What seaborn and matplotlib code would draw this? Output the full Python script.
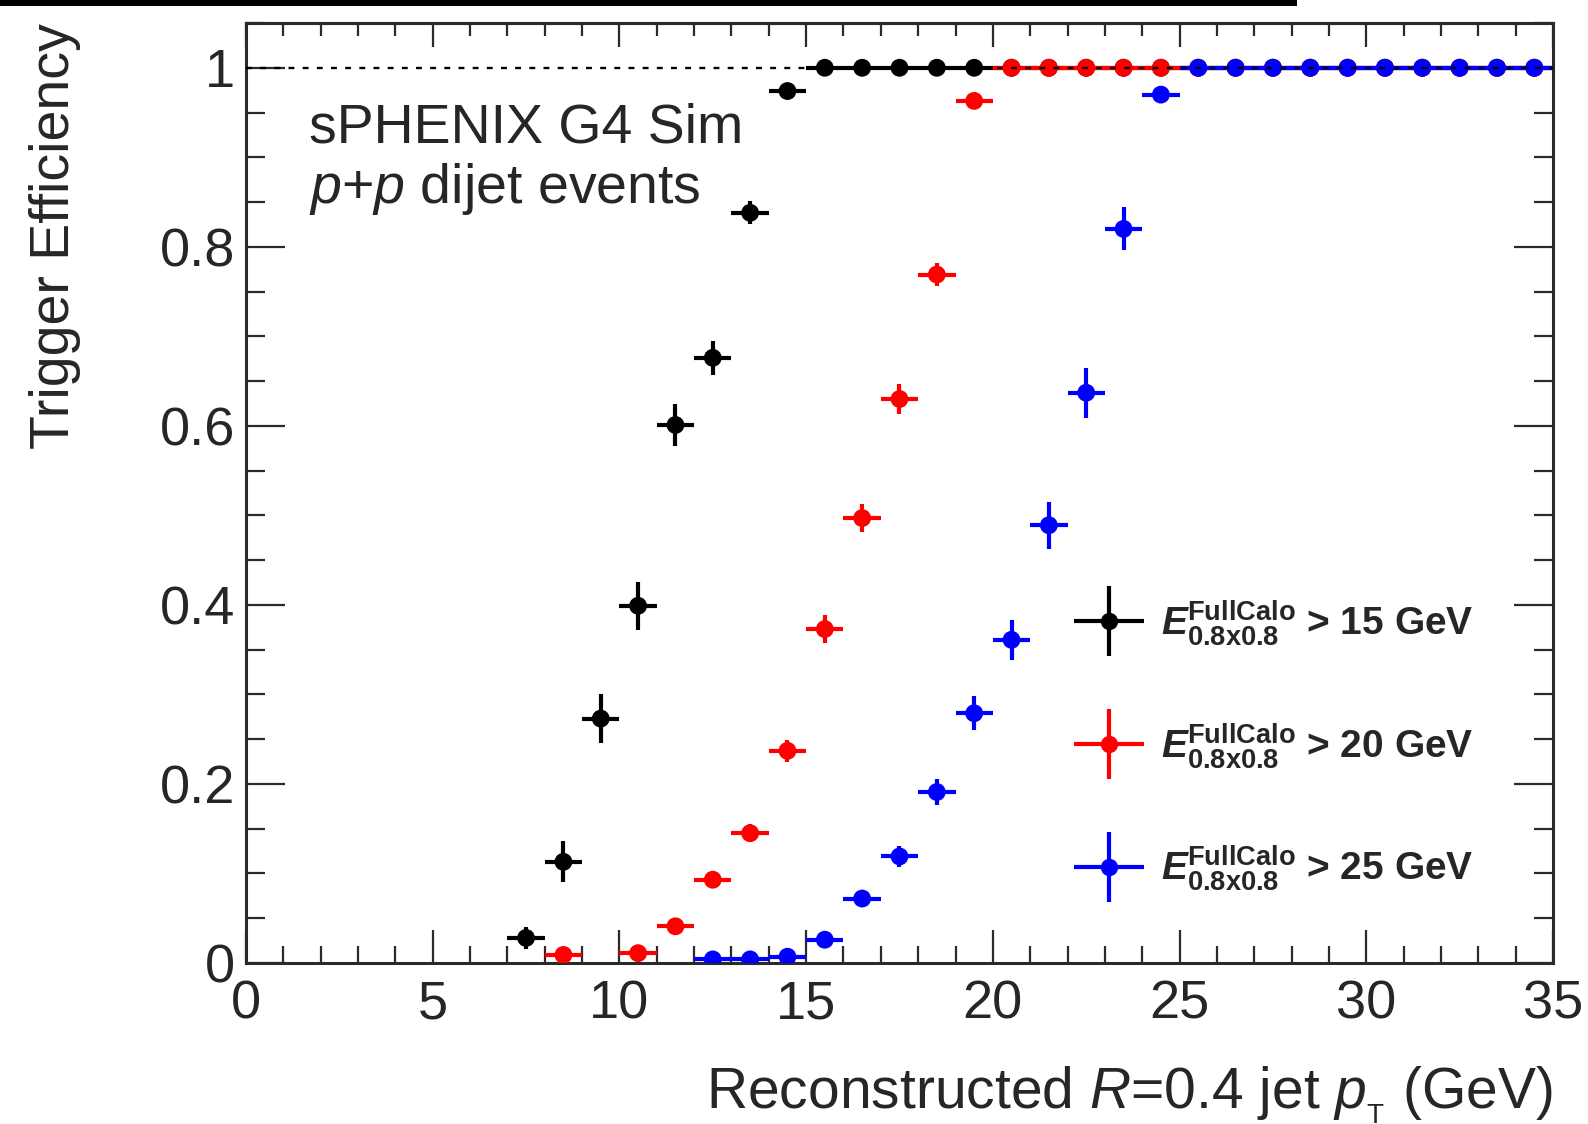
import numpy as np
import pandas as pd
import matplotlib
matplotlib.use("Agg")
import matplotlib.pyplot as plt
import seaborn as sns
from matplotlib.patches import Rectangle
from matplotlib.lines import Line2D
from matplotlib.legend_handler import HandlerErrorbar, HandlerTuple
from matplotlib.container import ErrorbarContainer
from matplotlib.ticker import MultipleLocator, FuncFormatter

# ---------------- data ----------------
pt_bins = [0.5, 1.5, 2.5, 3.5, 4.5, 5.5, 6.5, 7.5, 8.5, 9.5,
           10.5, 11.5, 12.5, 13.5, 14.5, 15.5, 16.5, 17.5, 18.5, 19.5,
           20.5, 21.5, 22.5, 23.5, 24.5, 25.5, 26.5, 27.5, 28.5, 29.5,
           30.5, 31.5, 32.5, 33.5, 34.5]
nan = np.nan
eff_15 = [nan, nan, nan, nan, nan, nan, nan, 0.028, 0.113, 0.273,
          0.399, 0.601, 0.676, 0.838, 0.974, 1.0, 1.0, 1.0, 1.0, 1.0,
          1.0, 1.0, 1.0, 1.0, 1.0, 1.0, 1.0, 1.0, 1.0, 1.0,
          1.0, 1.0, 1.0, 1.0, 1.0]
err_15 = [0, 0, 0, 0, 0, 0, 0, 0.012, 0.023, 0.027,
          0.027, 0.023, 0.019, 0.013, 0.006, 0, 0, 0, 0, 0,
          0, 0, 0, 0, 0, 0, 0, 0, 0, 0,
          0, 0, 0, 0, 0]
eff_20 = [nan, nan, nan, nan, nan, nan, nan, nan, 0.009, nan,
          0.011, 0.041, 0.093, 0.145, 0.237, 0.373, 0.497, 0.630, 0.769, 0.963,
          1.0, 1.0, 1.0, 1.0, 1.0, 1.0, 1.0, 1.0, 1.0, 1.0,
          1.0, 1.0, 1.0, 1.0, 1.0]
err_20 = [0, 0, 0, 0, 0, 0, 0, 0, 0.004, 0,
          0.004, 0.006, 0.008, 0.010, 0.012, 0.016, 0.016, 0.017, 0.013, 0.006,
          0, 0, 0, 0, 0, 0, 0, 0, 0, 0,
          0, 0, 0, 0, 0]
eff_25 = [nan, nan, nan, nan, nan, nan, nan, nan, nan, nan,
          nan, nan, 0.004, 0.004, 0.007, 0.026, 0.072, 0.119, 0.191, 0.279,
          0.361, 0.489, 0.637, 0.820, 0.970, 1.0, 1.0, 1.0, 1.0, 1.0,
          1.0, 1.0, 1.0, 1.0, 1.0]
err_25 = [0, 0, 0, 0, 0, 0, 0, 0, 0, 0,
          0, 0, 0.002, 0.002, 0.003, 0.006, 0.009, 0.012, 0.015, 0.019,
          0.022, 0.026, 0.028, 0.024, 0.008, 0, 0, 0, 0, 0,
          0, 0, 0, 0, 0]
bin_half_width = 0.5

series_names = ["15", "20", "25"]
series_colors = ["#000000", "#ff0000", "#0000ff"]
series_labels = [
    r"$\mathsf{E}^{\mathbf{FullCalo}}_{\mathbf{0.8x0.8}}$ > 15 GeV",
    r"$\mathsf{E}^{\mathbf{FullCalo}}_{\mathbf{0.8x0.8}}$ > 20 GeV",
    r"$\mathsf{E}^{\mathbf{FullCalo}}_{\mathbf{0.8x0.8}}$ > 25 GeV",
]
series_eff = [eff_15, eff_20, eff_25]
series_err = [err_15, err_20, err_25]

# ---------------- style ----------------
sns.set_theme(style="ticks")
plt.rcParams["font.family"] = ["Liberation Sans", "DejaVu Sans"]
plt.rcParams["mathtext.fontset"] = "custom"
plt.rcParams["mathtext.rm"] = "Liberation Sans"
plt.rcParams["mathtext.it"] = "Liberation Sans:italic"
plt.rcParams["mathtext.bf"] = "Liberation Sans:bold"
plt.rcParams["mathtext.sf"] = "Liberation Sans:italic:bold"

W, H = 1588, 1124
fig = plt.figure(figsize=(W / 100, H / 100), dpi=100)
ax_l, ax_r, ax_b, ax_t = 246, 1553, 963, 23
ax = fig.add_axes([ax_l / W, 1 - ax_b / H, (ax_r - ax_l) / W, (ax_b - ax_t) / H])

# ---------------- data marks ----------------
rows = []
for name, eff in zip(series_names, series_eff):
    for x, y in zip(pt_bins, eff):
        rows.append({"pt": x, "eff": y, "trigger": name})
df = pd.DataFrame(rows).dropna()

containers = []
for name, color, eff, err in zip(series_names, series_colors, series_eff, series_err):
    c = ax.errorbar(pt_bins, eff, xerr=bin_half_width, yerr=err, fmt="none",
                    ecolor=color, elinewidth=3.0, capsize=0, zorder=2)
    containers.append(c)

sns.scatterplot(data=df, x="pt", y="eff", hue="trigger", hue_order=series_names,
                palette=dict(zip(series_names, series_colors)), s=165,
                linewidth=0, legend=False, zorder=3, ax=ax)

ax.axhline(1.0, color="black", lw=1.7, ls=(0, (2.5, 3.5)), zorder=4)

# ---------------- axes ----------------
ax.set_xlim(0, 35)
ax.set_ylim(0, 1.05)
ax.xaxis.set_major_locator(MultipleLocator(5))
ax.xaxis.set_minor_locator(MultipleLocator(1))
ax.yaxis.set_major_locator(MultipleLocator(0.2))
ax.yaxis.set_minor_locator(MultipleLocator(0.05))
fmt = FuncFormatter(lambda v, p: "%g" % round(v, 3))
ax.xaxis.set_major_formatter(fmt)
ax.yaxis.set_major_formatter(fmt)

spine_c = "#2a2a2a"
for s in ax.spines.values():
    s.set_linewidth(2.2)
    s.set_color(spine_c)

ax.tick_params(axis="both", which="both", direction="in", color=spine_c, width=1.6)
ax.tick_params(axis="x", which="major", length=24, labelsize=39, pad=12, top=False)
ax.tick_params(axis="x", which="minor", length=12, top=False)
ax.tick_params(axis="y", which="major", length=28, labelsize=39, pad=8, right=True)
ax.tick_params(axis="y", which="minor", length=14, right=True)

sec = ax.secondary_xaxis("top")
sec.xaxis.set_major_locator(MultipleLocator(5))
sec.xaxis.set_minor_locator(MultipleLocator(1))
sec.tick_params(axis="x", which="both", direction="in", color=spine_c, width=1.6, labeltop=False)
sec.tick_params(axis="x", which="major", length=17)
sec.tick_params(axis="x", which="minor", length=9)
sec.spines["top"].set_linewidth(2.2)
sec.spines["top"].set_color(spine_c)

ax.set_xlabel(r"Reconstructed $R$=0.4 jet $p_{_{\mathrm{T}}}$ (GeV)", fontsize=41, loc="right")
ax.set_ylabel("Trigger Efficiency", fontsize=40, loc="top")
ax.xaxis.set_label_coords(1.0, -0.108)
ax.yaxis.set_label_coords(-0.126, 1.0)

ax.text(0.048, 0.873, "sPHENIX G4 Sim", transform=ax.transAxes, fontsize=40,
        va="baseline", ha="left")
ax.text(0.048, 0.8085, r"$p$+$p$ dijet events", transform=ax.transAxes, fontsize=40,
        va="baseline", ha="left")

# ---------------- legend ----------------
handles = []
for c, color in zip(containers, series_colors):
    mk = Line2D([], [], marker="o", ls="none", color=color, markersize=12.5,
                markeredgewidth=0)
    handles.append((c, mk))
leg = ax.legend(handles, series_labels,
                handler_map={ErrorbarContainer: HandlerErrorbar(xerr_size=0.9, yerr_size=0.9),
                             tuple: HandlerTuple(ndivide=1)},
                loc="upper left", bbox_to_anchor=(0.6335, 0.388), frameon=False,
                borderpad=0, borderaxespad=0, handlelength=1.8, handletextpad=0.45,
                labelspacing=1.88, prop={"size": 28, "weight": "bold"})

# ---------------- top black bar ----------------
fig.add_artist(Rectangle((0, 1 - 6 / H), 1297 / W, 6 / H, transform=fig.transFigure,
                         color="black", lw=0))

fig.savefig("out.png", dpi=100)
